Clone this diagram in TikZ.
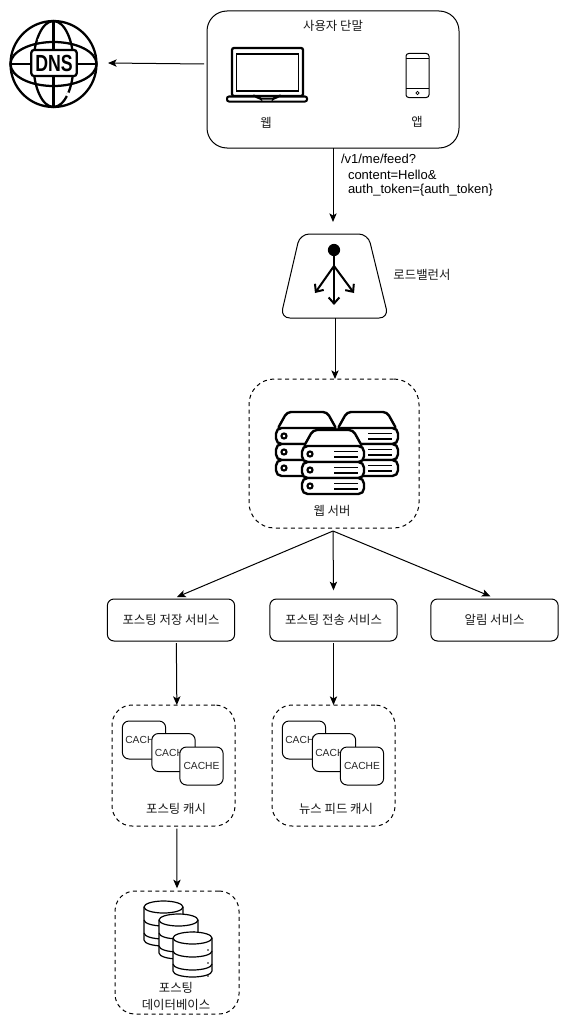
\documentclass[tikz,border=0pt]{standalone}
\usepackage{fontspec}
\setmainfont{Liberation Sans}
\newfontfamily\kr{Noto Sans CJK KR}
\usetikzlibrary{arrows.meta}
\tikzset{
  x=0.75pt,y=-0.75pt,
  every node/.style={inner sep=0pt,outer sep=0pt},
  ln/.style={line width=0.75pt,draw=black},
  conn/.style={line width=0.75pt,draw=black,-{Stealth[length=6.5pt,width=5.5pt,inset=1.6pt]}},
  kor/.style={font=\kr\fontsize{9.3pt}{12.8pt}\selectfont,align=center,text=black!90},
  lat/.style={font=\fontsize{9.75pt}{11pt}\selectfont,anchor=west},
  solidbox/.style={ln,rectangle,rounded corners=#1,fill=white},
  dashbox/.style={ln,rectangle,rounded corners=#1,dash pattern=on 3pt off 2.6pt},
  service/.style={solidbox=5pt,minimum width=95.5pt,minimum height=31.5pt,kor},
  cachebox/.style={solidbox=5pt,minimum width=32.5pt,minimum height=28.5pt,
    font=\fontsize{7.7pt}{9pt}\selectfont,text=black!85},
  icon/.style={line width=1.8pt,draw=black,line join=round},
  thin icon/.style={line width=0.9pt,draw=black,fill=white},
}
\newcommand{\srvunit}[3]{% x, y, lines?
  \draw[icon,fill=white,rounded corners=4.2pt] (#1,#2) rectangle ++(62,16);
  \draw[line width=1.6pt,fill=white] (#1+8,#2+8) circle (1.9pt);
  \ifnum#3=1
    \draw[line width=1.4pt] (#1+32,#2+5.5) -- ++(24,0) (#1+32,#2+11) -- ++(24,0);
  \fi}
\newcommand{\srvicon}[3]{% x, y, lines?
  \draw[icon,fill=white,rounded corners=3pt] (#1+1,#2+18) -- (#1+11,#2) -- (#1+51,#2) -- (#1+61,#2+18) -- cycle;
  \srvunit{#1}{#2+16}{#3}
  \srvunit{#1}{#2+32}{#3}
  \srvunit{#1}{#2+48}{#3}}
\newcommand{\dbicon}[2]{% x, top y
  \draw[thin icon] (#1,#2+6) -- (#1,#2+39) arc[x radius=19.5,y radius=6,start angle=180,end angle=0] -- (#1+39,#2+6) arc[x radius=19.5,y radius=6,start angle=0,end angle=-180] -- cycle;
  \draw[thin icon,fill=none] (#1,#2+6) arc[x radius=19.5,y radius=6,start angle=180,end angle=0];
  \draw[thin icon,fill=none] (#1,#2+19) arc[x radius=19.5,y radius=6,start angle=180,end angle=0];
  \draw[thin icon,fill=none] (#1,#2+32) arc[x radius=19.5,y radius=6,start angle=180,end angle=0];
  \fill (#1+35,#2+18) circle (0.6pt) (#1+35,#2+31) circle (0.6pt) (#1+35,#2+44) circle (0.6pt);}
\begin{document}
\begin{tikzpicture}
\path[use as bounding box] (0,0) rectangle (569,1024);

% user terminal
\node[solidbox=15pt,minimum width=189pt,minimum height=102.75pt] (user) at (333,79.5) {};
\node[kor] (usertitle) at (333,26) {사용자 단말};
\draw[line width=1.7pt,rounded corners=1.5pt] (232,48) rectangle (303,96);
\draw[line width=1.2pt] (236.5,54) rectangle (298.5,91);
\draw[line width=1.5pt,fill=white,rounded corners=1.5pt] (227,96.5) -- (257,96.5) -- (259,98.5) -- (275,98.5) -- (277,96.5) -- (307,96.5) -- (307,101.5) -- (227,101.5) -- cycle;
\node[kor] (weblabel) at (266,123) {웹};
\draw[line width=0.75pt,rounded corners=2pt] (406,53.5) rectangle (429,97.5);
\draw[line width=0.75pt] (406,59) -- (429,59) (406,88.5) -- (429,88.5);
\draw[line width=0.6pt] (417.5,93) circle (1.2pt);
\node[kor] (applabel) at (417,122) {앱};

% DNS globe
\begin{scope}[line width=1.7pt]
\draw (53.5,64) circle[radius=43];
\draw (53.5,64) ellipse[x radius=20,y radius=43];
\draw (53.5,64) ellipse[x radius=43,y radius=22];
\draw (53.5,21) -- (53.5,107) (10.5,64) -- (96.5,64);
\draw[white,line width=2.4pt] (38,40.5) -- (41,40) (69,93) -- (67,96) (17,80) -- (19,83);
\end{scope}
\node[draw=black,line width=1.7pt,fill=white,rounded corners=2pt,minimum width=34pt,minimum height=19.5pt] (dns) at (54,63) {};
\node[font=\bfseries\fontsize{17.5pt}{18pt}\selectfont,xscale=0.76] (dnstext) at (54,63.5) {DNS};

% load balancer
\draw[ln,fill=white,rounded corners=7pt] (300,234) -- (368,234) -- (388.5,318) -- (280.5,318) -- cycle;
\node[minimum width=81pt,minimum height=63pt] (lb) at (335,276) {};
\fill (334,250) circle (4.6pt);
\begin{scope}[line width=1.5pt,-{Straight Barb[length=4.5pt,width=8pt]}]
\draw (334,255) -- (334,305);
\draw (334,266) -- (315,293);
\draw (334,266) -- (354,293);
\end{scope}
\node[kor] (lblabel) at (422,275) {로드밸런서};

% web servers
\node[dashbox=19pt,minimum width=127.5pt,minimum height=111.75pt] (web) at (334,453.5) {};
\srvicon{336}{412}{1}
\srvicon{276}{412}{0}
\srvicon{302}{430}{1}
\node[kor] (weblbl) at (332,511) {웹 서버};

% services
\node[service] (store) at (171,620) {포스팅 저장 서비스};
\node[service] (fanout) at (333.5,620) {포스팅 전송 서비스};
\node[service] (notify) at (494.5,620) {알림 서비스};

% caches
\node[dashbox=15pt,minimum width=92.25pt,minimum height=90.75pt] (pcache) at (173.5,765.5) {};
\node[cachebox,text width=28pt,align=left] (c1a) at (144,740) {CACHE};
\node[cachebox,text width=28pt,align=left] (c1b) at (173.5,752.5) {CACHE};
\node[cachebox] (c1c) at (201.5,766) {CACHE};
\node[kor] (pcachelbl) at (176,809) {포스팅 캐시};

\node[dashbox=15pt,minimum width=92.25pt,minimum height=90.75pt] (ncache) at (333.5,765.5) {};
\node[cachebox,text width=28pt,align=left] (c2a) at (304,740) {CACHE};
\node[cachebox,text width=28pt,align=left] (c2b) at (334,752.5) {CACHE};
\node[cachebox] (c2c) at (362,766) {CACHE};
\node[kor] (ncachelbl) at (336,809) {뉴스 피드 캐시};

% database
\node[dashbox=15pt,minimum width=93pt,minimum height=92.25pt] (db) at (177,952.5) {};
\dbicon{144}{901}
\dbicon{159}{914}
\dbicon{173}{932}
\node[kor] (dblbl) at (176,996.5) {포스팅\\데이터베이스};

% connectors
\coordinate (dnsend) at (108,63);
\draw[conn] ([xshift=-2.25pt]user.west |- 0,64) -- (dnsend);
\coordinate (lbtop) at (333,222);
\draw[conn] (user.south) -- (lbtop);
\node[lat] (apitext1) at (341,159) {/v1/me/feed?};
\node[lat] (apitext2) at (348,174.5) {content=Hello\&};
\node[lat] (apitext3) at (348,190) {auth\_token=\{auth\_token\}};
\draw[conn] (lb.south) -- ([xshift=0.75pt]web.north);
\coordinate (fan) at (333,531);
\draw[conn] (fan) -- ([yshift=1.5pt,xshift=4.5pt]store.north);
\draw[conn] (fan) -- ([yshift=6.5pt]fanout.north);
\draw[conn] (fan) -- ([yshift=2pt,xshift=-3pt]notify.north);
\draw[conn] ([xshift=4pt,yshift=-1.5pt]store.south) -- ([xshift=2.5pt]pcache.north);
\draw[conn] ([yshift=-1.5pt]fanout.south) -- (ncache.north);
\draw[conn] ([xshift=2.5pt,yshift=-2pt]pcache.south) -- ([yshift=2pt]db.north);
\end{tikzpicture}
\end{document}
